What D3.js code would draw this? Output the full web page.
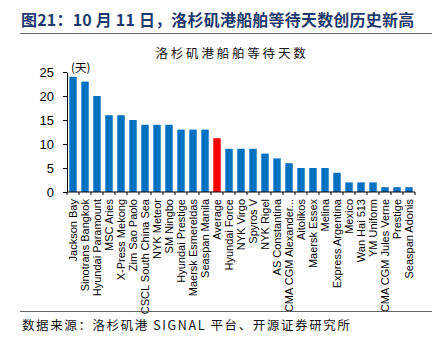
<!DOCTYPE html>
<html>
<head>
<meta charset="utf-8">
<script src="https://cdn.jsdelivr.net/npm/d3@7"></script>
<style>
  body { margin: 0; background: #fff; }
  svg { display: block; }
</style>
</head>
<body>
<svg></svg>
<script>
const ships = ["Jackson Bay", "Sinotrans Bangkok", "Hyundai Paramount", "MSC Aries", "X-Press Mekong",
    "Zim Sao Paolo", "CSCL South China Sea", "NYK Meteor", "SM Ningbo", "Hyundai Prestige",
    "Maersk Esmereldas", "Seaspan Manila", "Average", "Hyundai Force", "NYK Virgo", "Spyros V",
    "NYK Rigel", "AS Constantina", "CMA CGM Alexander...", "Aitolikos", "Maersk Essex", "Melina",
    "Express Argentina", "Mexico", "Wan Hai 513", "YM Uniform", "CMA CGM Jules Verne", "Prestige",
    "Seaspan Adonis"];
const waitDays = [24, 23, 20, 16, 16, 15, 14, 14, 14, 13, 13, 13, 11.2, 9, 9, 9, 8, 7, 6, 5, 5, 5,
    4, 2, 2, 2, 1, 1, 1];
const yTicks = [0, 5, 10, 15, 20, 25];

const data = ships.map((s, i) => ({ name: s, value: waitDays[i] }));

const width = 446, height = 353;
const margin = { top: 72, right: 31, bottom: 161, left: 67 };
const cjk = "'Noto Sans CJK SC', sans-serif";

const svg = d3.select("svg")
    .attr("width", width)
    .attr("height", height);

// figure caption
svg.append("text")
    .attr("x", 21)
    .attr("y", 26)
    .text("图21：10 月 11 日，洛杉矶港船舶等待天数创历史新高")
    .style("font-family", cjk)
    .style("font-weight", "bold")
    .style("font-size", "16px")
    .style("letter-spacing", "0.2px")
    .style("fill", "#1f3b6e");

svg.append("line")
    .attr("x1", 20).attr("x2", 432)
    .attr("y1", 33.5).attr("y2", 33.5)
    .attr("stroke", "#666").attr("stroke-width", 1);

svg.append("text")
    .attr("x", 232)
    .attr("y", 58)
    .text("洛杉矶港船舶等待天数")
    .style("font-family", cjk)
    .style("font-size", "12.5px")
    .style("letter-spacing", "2.8px")
    .style("fill", "#111")
    .style("text-anchor", "middle");

const x = d3.scaleBand()
    .domain(ships)
    .range([margin.left, width - margin.right])
    .paddingInner(0.38)
    .paddingOuter(0.19);

const y = d3.scaleLinear()
    .domain([0, 25])
    .range([height - margin.bottom, margin.top]);

svg.selectAll(".bar")
    .data(data)
    .enter()
    .append("rect")
    .attr("class", "bar")
    .attr("x", d => x(d.name))
    .attr("y", d => y(d.value))
    .attr("width", x.bandwidth())
    .attr("height", d => y(0) - y(d.value))
    .attr("fill", d => d.name === "Average" ? "#ff0000" : "#0070c0");

// y axis
const yAxis = svg.append("g")
    .attr("transform", `translate(${margin.left},0)`)
    .call(d3.axisLeft(y).tickValues(yTicks).tickSize(4).tickSizeOuter(0).tickPadding(9));
yAxis.selectAll("text")
    .style("font-family", "'Liberation Sans', Arial, sans-serif")
    .style("font-size", "13px")
    .style("fill", "#000");
yAxis.selectAll("line, path").attr("stroke", "#000");

// x axis with ticks at band boundaries
const xAxis = svg.append("g")
    .attr("transform", `translate(0,${y(0)})`);
xAxis.append("line")
    .attr("x1", margin.left).attr("x2", width - margin.right)
    .attr("stroke", "#000");
const step = x.step();
const edges = d3.range(ships.length + 1).map(i => margin.left + i * step);
xAxis.selectAll(".tk")
    .data(edges)
    .enter()
    .append("line")
    .attr("x1", d => d).attr("x2", d => d)
    .attr("y1", 0).attr("y2", 3)
    .attr("stroke", "#000");
xAxis.selectAll(".lbl")
    .data(ships)
    .enter()
    .append("text")
    .attr("transform", d => `translate(${x(d) + x.bandwidth() / 2 + 4},7) rotate(-90)`)
    .text(d => d)
    .style("font-family", "'Liberation Sans', Arial, sans-serif")
    .style("font-size", "11px")
    .style("fill", "#000")
    .style("text-anchor", "end");

svg.append("text")
    .attr("x", 71)
    .attr("y", 72)
    .text("(天)")
    .style("font-family", cjk)
    .style("font-size", "11.5px")
    .style("fill", "#000");

// source line
svg.append("line")
    .attr("x1", 20).attr("x2", 432)
    .attr("y1", 311.5).attr("y2", 311.5)
    .attr("stroke", "#666").attr("stroke-width", 1);

svg.append("text")
    .attr("x", 22)
    .attr("y", 330)
    .text("数据来源：洛杉矶港 SIGNAL 平台、开源证券研究所")
    .style("font-family", cjk)
    .style("font-size", "12.5px")
    .style("letter-spacing", "1.6px")
    .style("fill", "#111");
</script>
</body>
</html>
